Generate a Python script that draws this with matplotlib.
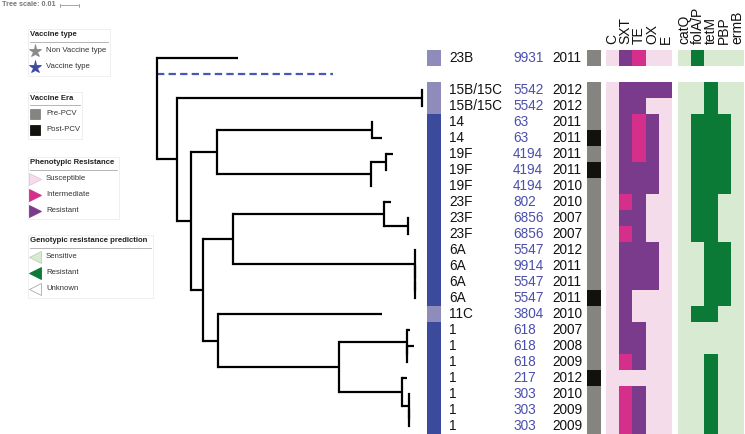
import numpy as np
import matplotlib
matplotlib.use('Agg')
import matplotlib.pyplot as plt
from matplotlib.colors import ListedColormap
from matplotlib.patches import Rectangle

plt.rcParams['font.family'] = ['Liberation Sans', 'DejaVu Sans']

# ---- data (one entry per isolate, top to bottom) ----
serotypes = ['23B', '15B/15C', '15B/15C', '14', '14', '19F', '19F', '19F',
             '23F', '23F', '23F', '6A', '6A', '6A', '6A', '11C',
             '1', '1', '1', '1', '1', '1', '1']
sequence_types = [9931, 5542, 5542, 63, 63, 4194, 4194, 4194,
                  802, 6856, 6856, 5547, 9914, 5547, 5547, 3804,
                  618, 618, 618, 217, 303, 303, 303]
years = [2011, 2012, 2012, 2011, 2011, 2011, 2011, 2010,
         2010, 2007, 2007, 2012, 2011, 2011, 2011, 2010,
         2007, 2008, 2009, 2012, 2010, 2009, 2009]
vaccine_type = ['NVT', 'NVT', 'NVT', 'VT', 'VT', 'VT', 'VT', 'VT',
                'VT', 'VT', 'VT', 'VT', 'VT', 'VT', 'VT', 'NVT',
                'VT', 'VT', 'VT', 'VT', 'VT', 'VT', 'VT']
vaccine_era = ['pre', 'pre', 'pre', 'pre', 'post', 'pre', 'post', 'pre',
               'pre', 'pre', 'pre', 'pre', 'pre', 'pre', 'post', 'pre',
               'pre', 'pre', 'pre', 'post', 'pre', 'pre', 'pre']

# phenotypic resistance: 0 susceptible, 1 intermediate, 2 resistant
pheno_cols = ['C', 'SXT', 'TE', 'OX', 'E']
pheno = [
    [0, 2, 1, 0, 0],
    [0, 2, 2, 2, 2],
    [0, 2, 2, 0, 0],
    [0, 2, 1, 2, 0],
    [0, 2, 1, 2, 0],
    [0, 2, 1, 2, 0],
    [0, 2, 2, 2, 0],
    [0, 2, 2, 2, 0],
    [0, 1, 2, 0, 0],
    [0, 2, 2, 0, 0],
    [0, 1, 2, 0, 0],
    [0, 2, 2, 2, 0],
    [0, 2, 2, 2, 0],
    [0, 2, 2, 2, 0],
    [0, 2, 0, 0, 0],
    [0, 2, 0, 0, 0],
    [0, 2, 2, 0, 0],
    [0, 2, 2, 0, 0],
    [0, 1, 2, 0, 0],
    [0, 0, 0, 0, 0],
    [0, 1, 2, 0, 0],
    [0, 1, 2, 0, 0],
    [0, 1, 2, 0, 0],
]

# genotypic prediction: 0 sensitive, 1 resistant
geno_cols = ['catQ', 'folA/P', 'tetM', 'PBP', 'ermB']
geno = [
    [0, 1, 0, 0, 0],
    [0, 0, 1, 0, 0],
    [0, 0, 1, 0, 0],
    [0, 1, 1, 1, 0],
    [0, 1, 1, 1, 0],
    [0, 1, 1, 1, 0],
    [0, 1, 1, 1, 0],
    [0, 1, 1, 1, 0],
    [0, 1, 1, 0, 0],
    [0, 1, 1, 0, 0],
    [0, 1, 1, 0, 0],
    [0, 0, 1, 1, 0],
    [0, 0, 1, 1, 0],
    [0, 0, 1, 1, 0],
    [0, 0, 1, 1, 0],
    [0, 1, 1, 0, 0],
    [0, 0, 0, 0, 0],
    [0, 0, 0, 0, 0],
    [0, 0, 1, 0, 0],
    [0, 0, 1, 0, 0],
    [0, 0, 1, 0, 0],
    [0, 0, 1, 0, 0],
    [0, 0, 1, 0, 0],
]

# tree: leaf = row slot, node = tuple of (child, branch length)
# slot 1 is the dashed (collapsed) branch without a label
clade_14 = ((4, 0.0), (5, 0.0053))
clade_19F = ((((6, 0.0037), (7, 0.0)), 0.0079), (8, 0.0))
clade_I = ((clade_14, 0.0816), (clade_19F, 0.0811))
clade_23F = ((9, 0.0037), (((10, 0.0), (11, 0.0)), 0.0126))
clade_6A = ((12, 0.0), (((13, 0.0), (((14, 0.0), (15, 0.0)), 0.0)), 0.0))
clade_D = ((clade_23F, 0.0795), (clade_6A, 0.0958))
clade_G = ((17, 0.0016), (((18, 0.0037), (19, 0.0)), 0.0))
clade_Hsub = ((21, 0.0), (((22, 0.0), (23, 0.0)), 0.0))
clade_H = ((20, 0.0026), (clade_Hsub, 0.0037))
clade_F = ((clade_G, 0.0358), (clade_H, 0.0332))
clade_E = ((16, 0.0863), (clade_F, 0.0637))
clade_C = ((clade_D, 0.0158), (clade_E, 0.0079))
clade_B = ((clade_I, 0.0137), (clade_C, 0.0063))
clade_A = ((((2, 0.0), (3, 0.0)), 0.1289), (clade_B, 0.0074))
tree = ((0, 0.0426), (1, 0.0926), (clade_A, 0.0105))

# ---- layout ----
ROW_Y0 = 58
ROW_H = 16
N_SLOTS = 24
slots = [0] + list(range(2, N_SLOTS))
ROOT_X = 157
PX_PER_UNIT = 1900

fig = plt.figure(figsize=(7.45, 4.34), dpi=100)
ax = fig.add_axes([0, 0, 1, 1])
ax.set_xlim(0, 745)
ax.set_ylim(434, 0)
ax.axis('off')


def row_y(slot):
    return ROW_Y0 + slot * ROW_H


def draw_clade(node, x):
    if isinstance(node, int):
        return row_y(node)
    ys = []
    for child, bl in node:
        cx = x + bl * PX_PER_UNIT
        cy = draw_clade(child, cx)
        if isinstance(child, int) and child == 1:
            ax.plot([x, cx], [cy, cy], color='#4a55b8', lw=1.6,
                    dashes=(3.3, 1.9), solid_capstyle='butt')
        else:
            ax.plot([x, cx], [cy, cy], color='black', lw=1.6,
                    solid_capstyle='butt')
        ys.append(cy)
    ax.plot([x, x], [min(ys), max(ys)], color='black', lw=1.6,
            solid_capstyle='projecting')
    return (ys[0] + ys[-1]) / 2


draw_clade(tree, ROOT_X)

y_edges = ROW_Y0 - ROW_H / 2 + ROW_H * np.arange(N_SLOTS + 1)


def to_slots(values):
    values = np.asarray(values, dtype=float)
    shape = (N_SLOTS,) + values.shape[1:]
    arr = np.full(shape, np.nan)
    arr[slots] = values
    return np.ma.masked_invalid(arr.reshape(N_SLOTS, -1))


# vaccine type strip
vt_vals = to_slots([1 if v == 'VT' else 0 for v in vaccine_type])
ax.pcolormesh([427, 441], y_edges, vt_vals,
              cmap=ListedColormap(['#8f8bba', '#3c4a9b']), vmin=-0.5, vmax=1.5)

# labels
for s, sero, st, yr in zip(slots, serotypes, sequence_types, years):
    y = row_y(s)
    ax.text(449, y, sero, ha='left', va='center', fontsize=9.8, color='#111111')
    ax.text(513, y, str(st), ha='left', va='center', fontsize=9.8, color='#4a4fae')
    ax.text(552, y, str(yr), ha='left', va='center', fontsize=9.8, color='#111111')

# vaccine era strip
era_vals = to_slots([1 if e == 'post' else 0 for e in vaccine_era])
ax.pcolormesh([587, 601], y_edges, era_vals,
              cmap=ListedColormap(['#858480', '#12110d']), vmin=-0.5, vmax=1.5)

# phenotypic heatmap
px_edges = np.linspace(606, 672, len(pheno_cols) + 1)
ax.pcolormesh(px_edges, y_edges, to_slots(pheno),
              cmap=ListedColormap(['#f5dcea', '#d42f8a', '#7b3b8d']),
              vmin=-0.5, vmax=2.5)
for j, name in enumerate(pheno_cols):
    ax.text((px_edges[j] + px_edges[j + 1]) / 2, 44, name, rotation=90,
            ha='center', va='bottom', fontsize=10, color='#111111')

# genotypic heatmap
gx_edges = np.linspace(678, 744, len(geno_cols) + 1)
ax.pcolormesh(gx_edges, y_edges, to_slots(geno),
              cmap=ListedColormap(['#d9ead3', '#0b7a36']), vmin=-0.5, vmax=1.5)
for j, name in enumerate(geno_cols):
    ax.text((gx_edges[j] + gx_edges[j + 1]) / 2, 44, name, rotation=90,
            ha='center', va='bottom', fontsize=10, color='#111111')

# tree scale
ax.text(2, 5, 'Tree scale: 0.01', ha='left', va='center', fontsize=5.2,
        fontweight='bold', color='#777777')
bar_x0 = 60
ax.plot([bar_x0, bar_x0 + 0.01 * PX_PER_UNIT], [5, 5], color='#999999', lw=0.6)
ax.plot([bar_x0, bar_x0], [3.5, 6.5], color='#999999', lw=0.6)
ax.plot([bar_x0 + 0.01 * PX_PER_UNIT] * 2, [3.5, 6.5], color='#999999', lw=0.6)

# legends
legends = [
    ('Vaccine type', (28, 29, 82, 47), [
        ('*', '#8a8a8a', '#8a8a8a', 'Non Vaccine type', 9.5),
        ('*', '#3d4aa0', '#3d4aa0', 'Vaccine type', 9.5)]),
    ('Vaccine Era', (28, 92, 54, 47), [
        ('s', '#858480', '#858480', 'Pre-PCV', 7.5),
        ('s', '#12110d', '#12110d', 'Post-PCV', 7.5)]),
    ('Phenotypic Resistance', (28, 157, 91, 62), [
        ('>', '#f5dcea', '#e6c3da', 'Susceptible', 8),
        ('>', '#d42f8a', '#d42f8a', 'Intermediate', 8),
        ('>', '#7b3b8d', '#7b3b8d', 'Resistant', 8)]),
    ('Genotypic resistance prediction', (28, 235, 125, 63), [
        ('<', '#d9ead3', '#b9d3b0', 'Sensitive', 8),
        ('<', '#0b7a36', '#0b7a36', 'Resistant', 8),
        ('<', 'white', '#aaaaaa', 'Unknown', 8)]),
]
for title, (bx, by, bw, bh), items in legends:
    ax.add_patch(Rectangle((bx, by), bw, bh, facecolor='white',
                           edgecolor='#ececec', lw=0.6))
    ax.text(bx + 2, by + 6, title, ha='left', va='center', fontsize=5.6,
            fontweight='bold', color='#222222')
    ax.plot([bx + 2, bx + bw - 2], [by + 12.5, by + 12.5], color='#aaaaaa', lw=0.6)
    for k, (mk, fc, ec, label, ms) in enumerate(items):
        y = by + 21.5 + 16 * k
        ax.plot([35], [y], marker=mk, ms=ms, mfc=fc, mec=ec, mew=0.6,
                linestyle='none')
        ax.text(46, y, label, ha='left', va='center', fontsize=5.6,
                color='#333333')

fig.savefig('out.png', dpi=100)
